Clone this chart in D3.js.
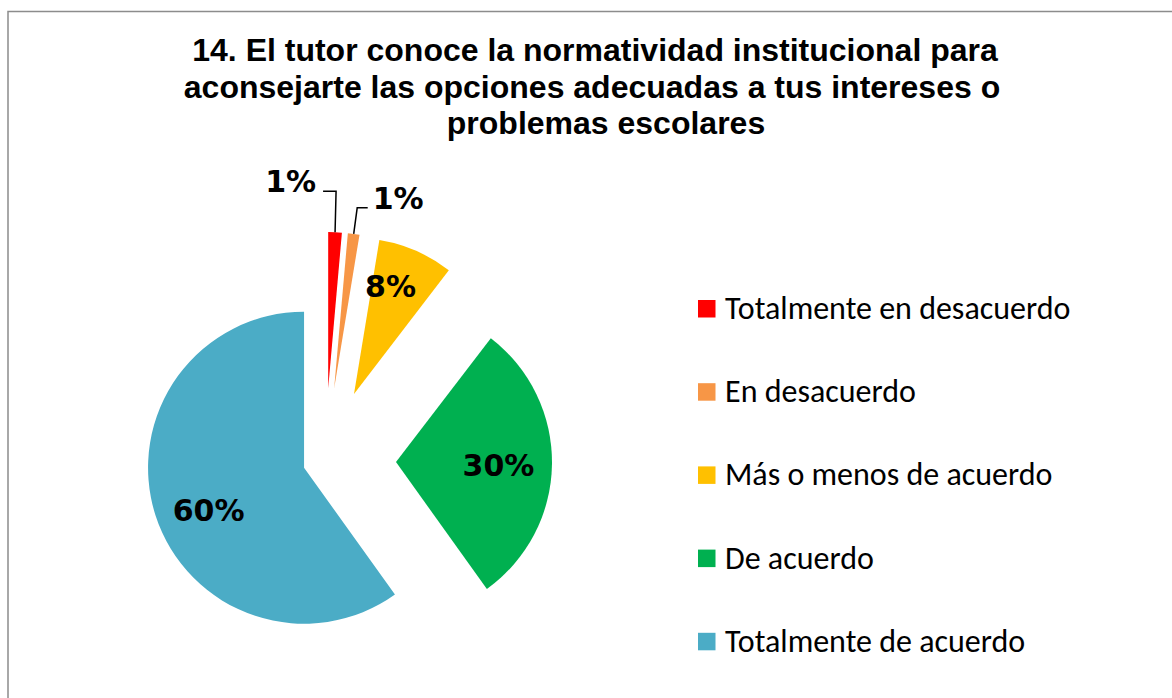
<!DOCTYPE html>
<html>
<head>
<meta charset="utf-8">
<script src="https://cdn.jsdelivr.net/npm/d3@7"></script>
<style>
  body { margin: 0; background: #fff; }
  svg { display: block; }
</style>
</head>
<body>
<svg id="chart" width="1172" height="698"></svg>
<script>
// data
var categories = ["Totalmente en desacuerdo", "En desacuerdo", "Más o menos de acuerdo", "De acuerdo", "Totalmente de acuerdo"];
var values = [1.4, 1.2, 7.8, 29.7, 59.9];
var valueLabels = ["1%", "1%", "8%", "30%", "60%"];
var colors = ["#FF0000", "#F79646", "#FFC000", "#00B050", "#4BACC6"];
var titleLines = ["14. El tutor conoce la normatividad institucional para",
                  "aconsejarte las opciones adecuadas a tus intereses o",
                  "problemas escolares"];

var svg = d3.select("#chart");

// chart frame (runs off the right and bottom edge)
svg.append("rect")
    .attr("x", 8).attr("y", 11.5)
    .attr("width", 1300).attr("height", 900)
    .attr("fill", "none")
    .attr("stroke", "#8c8c8c")
    .attr("stroke-width", 1.5);

// title
var titleX = [595, 592, 606];
svg.append("g").selectAll("text")
    .data(titleLines)
  .enter().append("text")
    .attr("x", function(d, i) { return titleX[i]; })
    .attr("y", function(d, i) { return 61 + i * 36.5; })
    .attr("text-anchor", "middle")
    .style("font-family", "Arial, 'Liberation Sans', sans-serif")
    .style("font-weight", "bold")
    .style("font-size", "32px")
    .text(function(d) { return d; });

// pie
var cx = 325, cy = 461, r = 156;
var explode = [73, 73, 73, 71, 22];
// small nudges so labels sit where Excel's best fit put them
var labelNudge = [[0, 0], [0, 0], [-5, -12], [-2, 1], [4, 10.5]];

var pie = d3.pie().sort(null).value(function(d) { return d; });
var arcs = pie(values);
var arc = d3.arc().innerRadius(0).outerRadius(r);
var labelArc = d3.arc().innerRadius(r * 0.67).outerRadius(r * 0.67);

function mid(d) { return (d.startAngle + d.endAngle) / 2; }
function offset(d, i) {
  var a = mid(d);
  return [explode[i] * Math.sin(a), -explode[i] * Math.cos(a)];
}

var g = svg.append("g").attr("transform", "translate(" + cx + "," + cy + ")");

var slices = g.selectAll(".slice")
    .data(arcs)
  .enter().append("g")
    .attr("class", "slice")
    .attr("transform", function(d, i) { var o = offset(d, i); return "translate(" + o[0] + "," + o[1] + ")"; });

slices.append("path")
    .attr("d", arc)
    .attr("fill", function(d, i) { return colors[i]; });

var labelFont = "Verdana, 'DejaVu Sans', sans-serif";

// labels inside the bigger slices
slices.filter(function(d) { return d.data >= 5; })
  .append("text")
    .attr("transform", function(d) {
      var c = labelArc.centroid(d), n = labelNudge[d.index];
      return "translate(" + (c[0] + n[0]) + "," + (c[1] + n[1]) + ")";
    })
    .attr("text-anchor", "middle")
    .attr("dy", "0.36em")
    .style("font-family", labelFont)
    .style("font-weight", "bold")
    .style("font-size", "30px")
    .text(function(d) { return valueLabels[d.index]; });

// small slices: label outside with an elbow leader line
var small = slices.filter(function(d) { return d.data < 5; });
small.each(function(d, k) {
  var a = mid(d);
  var px = r * Math.sin(a), py = -r * Math.cos(a);
  var left = k === 0;
  var up = left ? 41 : 26;
  var ex = px + (left ? 1 : 3.5), ey = py - up;
  var tx = ex + (left ? -13 : 10.5);
  var sel = d3.select(this);
  sel.append("path")
      .attr("d", "M" + px + "," + py + "L" + ex + "," + ey + "L" + tx + "," + ey)
      .attr("fill", "none")
      .attr("stroke", "#000")
      .attr("stroke-width", 1.5);
  sel.append("text")
      .attr("x", tx + (left ? -7 : 5))
      .attr("y", ey + 1)
      .attr("text-anchor", left ? "end" : "start")
      .style("font-family", labelFont)
      .style("font-weight", "bold")
      .style("font-size", "30px")
      .text(valueLabels[d.index]);
});

// legend
var legend = svg.append("g").attr("transform", "translate(698,300)");
var rows = legend.selectAll("g")
    .data(categories)
  .enter().append("g")
    .attr("transform", function(d, i) { return "translate(0," + (i * 83.2) + ")"; });

rows.append("rect")
    .attr("width", 17.5).attr("height", 17.5)
    .attr("fill", function(d, i) { return colors[i]; });

rows.append("text")
    .attr("x", 27)
    .attr("y", 19)
    .style("font-family", "Calibri, Carlito, 'Open Sans', sans-serif")
    .style("font-size", "32px")
    .style("fill", "#000")
    .text(function(d) { return d; });
</script>
</body>
</html>
